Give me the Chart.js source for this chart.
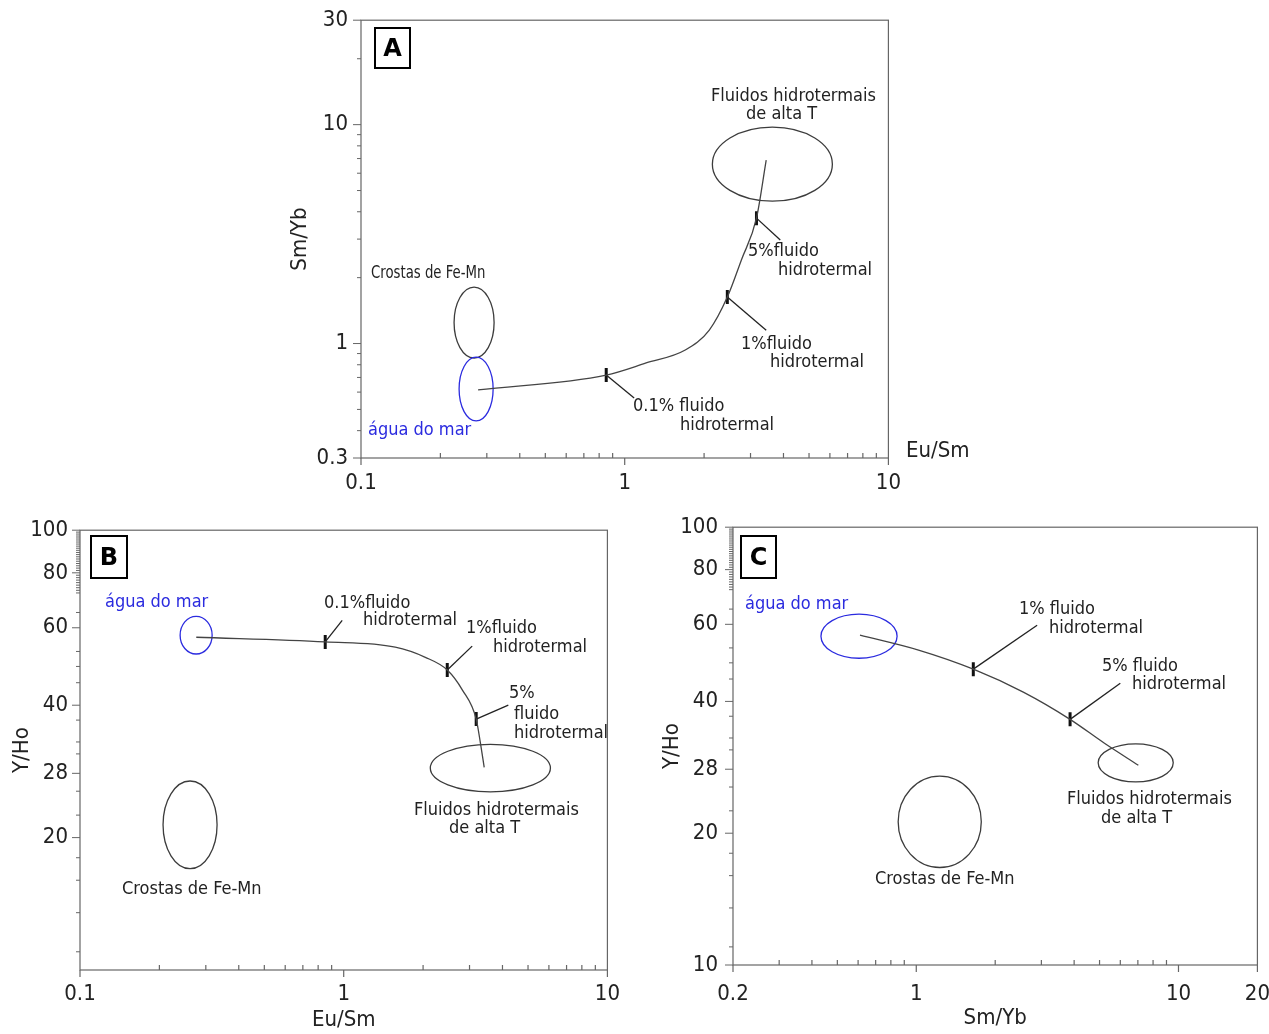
<!DOCTYPE html>
<html>
<head>
<meta charset="utf-8">
<script src="https://cdn.jsdelivr.net/npm/chart.js@4.4.0/dist/chart.umd.min.js"></script>
<style>
body { margin: 0; background: #fff; }
#page { position: relative; width: 1269px; height: 1034px; overflow: hidden;
        font-family: 'DejaVu Sans Condensed', 'DejaVu Sans', sans-serif; color: #222; }
.box { position: absolute; }
.t { position: absolute; white-space: nowrap; line-height: 1; font-size: 18px; }
.blue { color: #2b2bdf; }
.tag { position: absolute; border: 2px solid #000; box-sizing: border-box; font-weight: bold;
       font-size: 24px; text-align: center; font-family: 'DejaVu Sans', sans-serif; color: #000; }
</style>
</head>
<body>
<div id="page">
  <div class="box" style="left:270px;top:-6px"><canvas id="chartA" width="643" height="506"></canvas></div>
  <div class="box" style="left:0px;top:505px"><canvas id="chartB" width="631" height="529"></canvas></div>
  <div class="box" style="left:640px;top:499px"><canvas id="chartC" width="646" height="535"></canvas></div>

  <div class="tag" style="left:374px;top:27px;width:37px;height:42px;line-height:38px">A</div>
  <div class="tag" style="left:90px;top:535px;width:38px;height:44px;line-height:40px">B</div>
  <div class="tag" style="left:740px;top:535px;width:37px;height:44px;line-height:40px">C</div>

  <!-- A -->
  <div class="t" style="left:711px;top:86px">Fluidos hidrotermais</div>
  <div class="t" style="left:746px;top:104px">de alta T</div>
  <div class="t" style="left:748px;top:241px">5%fluido</div>
  <div class="t" style="left:778px;top:260px">hidrotermal</div>
  <div class="t" style="left:741px;top:334px">1%fluido</div>
  <div class="t" style="left:770px;top:352px">hidrotermal</div>
  <div class="t" style="left:633px;top:396px">0.1% fluido</div>
  <div class="t" style="left:680px;top:415px">hidrotermal</div>
  <div class="t" style="left:371px;top:263px;transform:scaleX(0.82);transform-origin:0 0">Crostas de Fe-Mn</div>
  <div class="t blue" style="left:368px;top:420px">água do mar</div>
  <div class="t" style="left:906px;top:439px;font-size:22px">Eu/Sm</div>

  <!-- B -->
  <div class="t blue" style="left:105px;top:592px">água do mar</div>
  <div class="t" style="left:324px;top:593px">0.1%fluido</div>
  <div class="t" style="left:363px;top:610px">hidrotermal</div>
  <div class="t" style="left:466px;top:618px">1%fluido</div>
  <div class="t" style="left:493px;top:637px">hidrotermal</div>
  <div class="t" style="left:509px;top:683px">5%</div>
  <div class="t" style="left:514px;top:704px">fluido</div>
  <div class="t" style="left:514px;top:723px">hidrotermal</div>
  <div class="t" style="left:414px;top:800px">Fluidos hidrotermais</div>
  <div class="t" style="left:449px;top:818px">de alta T</div>
  <div class="t" style="left:122px;top:879px">Crostas de Fe-Mn</div>

  <!-- C -->
  <div class="t blue" style="left:745px;top:594px">água do mar</div>
  <div class="t" style="left:1019px;top:599px">1% fluido</div>
  <div class="t" style="left:1049px;top:618px">hidrotermal</div>
  <div class="t" style="left:1102px;top:656px">5% fluido</div>
  <div class="t" style="left:1132px;top:674px">hidrotermal</div>
  <div class="t" style="left:1067px;top:789px">Fluidos hidrotermais</div>
  <div class="t" style="left:1101px;top:808px">de alta T</div>
  <div class="t" style="left:875px;top:869px">Crostas de Fe-Mn</div>
</div>

<script>
// ---- Panel A : Sm/Yb vs Eu/Sm ----
const aCurveX = [0.278, 0.851, 1.206, 1.697, 2.093, 2.45, 2.77, 3.16, 3.44];
const aCurveY = [0.614, 0.718, 0.815, 0.934, 1.152, 1.63, 2.41, 3.74, 6.89];
const aMarkX = [0.851, 2.45, 3.16];      // 0.1%, 1%, 5% fluido
const aMarkY = [0.718, 1.63, 3.74];
const aLeadX = [1.086, 3.44, 3.89];
const aLeadY = [0.564, 1.15, 2.97];
// ellipses: Fluidos hidrotermais, Crostas de Fe-Mn, agua do mar
const aEllX0 = [2.15, 0.2254, 0.2355];
const aEllX1 = [6.13, 0.3197, 0.317];
const aEllY0 = [4.47, 0.859, 0.443];
const aEllY1 = [9.74, 1.81, 0.867];
const aXTicks = [0.1, 0.2, 0.3, 0.4, 0.5, 0.6, 0.7, 0.8, 0.9, 1, 2, 3, 4, 5, 6, 7, 8, 9, 10];
const aXLabels = [0.1, 1, 10];
const aYTicks = [0.3, 0.4, 0.5, 0.6, 0.7, 0.8, 0.9, 1, 2, 3, 4, 5, 6, 7, 8, 9, 10, 20, 30];
const aYLabels = [0.3, 1, 10, 30];

// ---- Panel B : Y/Ho vs Eu/Sm ----
const bCurveX = [0.276, 0.851, 1.568, 2.04, 2.47, 2.82, 3.18, 3.30, 3.41];
const bCurveY = [57.1, 55.7, 54.2, 51.4, 48.1, 43.3, 37.2, 32.8, 28.9];
const bMarkX = [0.851, 2.47, 3.18];
const bMarkY = [55.7, 48.1, 37.2];
const bLeadX = [0.987, 3.07, 4.21];
const bLeadY = [62.4, 54.5, 40.0];
const bEllX0 = [2.13, 0.2065, 0.2397];
const bEllX1 = [6.08, 0.331, 0.317];
const bEllY0 = [25.4, 17.0, 52.3];
const bEllY1 = [32.6, 26.9, 63.7];
const bXTicks = [0.1, 0.2, 0.3, 0.4, 0.5, 0.6, 0.7, 0.8, 0.9, 1, 2, 3, 4, 5, 6, 7, 8, 9, 10];
const bXLabels = [0.1, 1, 10];
const bYTicks = [11, 13.5, 16, 18, 20, 22.5, 25.5, 28, 31, 33, 37, 40, 45, 49, 53, 60, 65,
  72, 73, 74, 75, 76, 77, 78, 79, 80, 81, 82, 83, 84, 85, 86, 87, 88, 89, 90,
  91, 92, 93, 94, 95, 96, 97, 98, 99, 100];
const bYLabels = [20, 28, 40, 60, 80, 100];

// ---- Panel C : Y/Ho vs Sm/Yb ----
const cCurveX = [0.61, 1.02, 1.65, 2.56, 3.86, 5.22, 7.03];
const cCurveY = [56.7, 52.4, 47.4, 42.0, 36.4, 32.1, 28.6];
const cMarkX = [1.65, 3.86];             // 1%, 5% fluido
const cMarkY = [47.4, 36.4];
const cLeadX = [2.89, 6.0];
const cLeadY = [59.7, 44.0];
const cEllX0 = [4.94, 0.853, 0.433];
const cEllX1 = [9.55, 1.77, 0.845];
const cEllY0 = [26.2, 16.7, 50.2];
const cEllY1 = [32.0, 27.0, 63.3];
const cXTicks = [0.2, 0.3, 0.4, 0.5, 0.6, 0.7, 0.8, 0.9, 1, 2, 3, 4, 5, 6, 7, 8, 9, 10, 20];
const cXLabels = [0.2, 1, 10, 20];
const cYTicks = [10, 11, 13.5, 16, 18, 20, 22.5, 25.5, 28, 31, 33, 37, 40, 45, 49, 53, 60, 65,
  72, 73, 74, 75, 76, 77, 78, 79, 80, 81, 82, 83, 84, 85, 86, 87, 88, 89, 90,
  91, 92, 93, 94, 95, 96, 97, 98, 99, 100];
const cYLabels = [10, 20, 28, 40, 60, 80, 100];

const ellColors = ['#3c3c3c', '#3c3c3c', '#2b2bdf'];
const FONT = "'DejaVu Sans Condensed', 'DejaVu Sans', sans-serif";
Chart.defaults.font.family = FONT;
Chart.defaults.color = '#222';

// frame, tick marks and the field ellipses
function framePlugin(ell) {
    return {
        id: 'frame',
        beforeDatasetsDraw(chart) {
            const ctx = chart.ctx;
            const a = chart.chartArea;
            const x = chart.scales.x, y = chart.scales.y;
            ctx.save();
            ell.x0.forEach(function (v, i) {
                const x1 = x.getPixelForValue(v), x2 = x.getPixelForValue(ell.x1[i]);
                const y1 = y.getPixelForValue(ell.y0[i]), y2 = y.getPixelForValue(ell.y1[i]);
                ctx.beginPath();
                ctx.ellipse((x1 + x2) / 2, (y1 + y2) / 2, Math.abs(x2 - x1) / 2, Math.abs(y2 - y1) / 2, 0, 0, Math.PI * 2);
                ctx.strokeStyle = ellColors[i];
                ctx.lineWidth = 1.3;
                ctx.stroke();
            });
            ctx.strokeStyle = '#666';
            ctx.lineWidth = 1.2;
            ctx.strokeRect(a.left, a.top, a.right - a.left, a.bottom - a.top);
            x.ticks.forEach(function (t) {
                const px = x.getPixelForValue(t.value);
                const major = t.label !== '';
                ctx.beginPath();
                ctx.moveTo(px, a.bottom);
                ctx.lineTo(px, major ? a.bottom + 7 : a.bottom - 5);
                ctx.stroke();
            });
            ctx.lineWidth = 1;
            y.ticks.forEach(function (t) {
                const py = y.getPixelForValue(t.value);
                const major = t.label !== '';
                ctx.beginPath();
                ctx.moveTo(a.left, py);
                ctx.lineTo(a.left - (major ? 8 : 4), py);
                ctx.stroke();
            });
            ctx.restore();
        }
    };
}

function drawPanel(id, o) {
    const datasets = [{
        type: 'line',
        data: o.curveX.map(function (v, i) { return { x: v, y: o.curveY[i] }; }),
        borderColor: '#444',
        borderWidth: 1.3,
        pointRadius: 0,
        cubicInterpolationMode: 'monotone',
        fill: false
    }];
    o.markX.forEach(function (v, i) {
        datasets.push({
            type: 'line',
            data: [{ x: v, y: o.markY[i] }, { x: o.leadX[i], y: o.leadY[i] }],
            borderColor: '#222',
            borderWidth: 1.3,
            pointRadius: 0
        });
    });
    datasets.push({
        type: 'scatter',
        data: o.markX.map(function (v, i) { return { x: v, y: o.markY[i] }; }),
        pointStyle: 'line',
        rotation: 90,
        pointRadius: 7,
        borderWidth: 3,
        borderColor: '#111'
    });

    const axisTitle = function (text, pad) {
        return text ? { display: true, text: text, font: { size: 22 }, color: '#222', padding: pad } : { display: false };
    };

    new Chart(document.getElementById(id), {
        type: 'scatter',
        data: { datasets: datasets },
        options: {
            responsive: false,
            animation: false,
            layout: { padding: { top: o.padTop, right: o.padRight, left: 0, bottom: 0 } },
            plugins: { legend: { display: false }, tooltip: { enabled: false } },
            scales: {
                x: {
                    type: 'logarithmic', min: o.xMin, max: o.xMax,
                    afterFit: function (s) { s.height = o.xAxisH; },
                    afterBuildTicks: function (s) { s.ticks = o.xTicks.map(function (v) { return { value: v }; }); },
                    ticks: {
                        autoSkip: false, maxRotation: 0, minRotation: 0, padding: o.xPad,
                        font: { size: 22 }, color: '#222',
                        callback: function (v) { return o.xLabels.includes(v) ? String(v) : ''; }
                    },
                    grid: { display: false, drawTicks: false },
                    border: { display: false },
                    title: axisTitle(o.xTitle, { top: 0, bottom: o.xTitlePad })
                },
                y: {
                    type: 'logarithmic', min: o.yMin, max: o.yMax,
                    afterFit: function (s) { s.width = o.yAxisW; },
                    afterBuildTicks: function (s) { s.ticks = o.yTicks.map(function (v) { return { value: v }; }); },
                    ticks: {
                        autoSkip: false, padding: o.yPad,
                        font: { size: 22 }, color: '#222',
                        callback: function (v) { return o.yLabels.includes(v) ? String(v) : ''; }
                    },
                    grid: { display: false, drawTicks: false },
                    border: { display: false },
                    title: axisTitle(o.yTitle, { top: o.yTitlePad, bottom: 0 })
                }
            }
        },
        plugins: [framePlugin(o.ell)]
    });
}

drawPanel('chartA', {
    curveX: aCurveX, curveY: aCurveY, markX: aMarkX, markY: aMarkY, leadX: aLeadX, leadY: aLeadY,
    ell: { x0: aEllX0, x1: aEllX1, y0: aEllY0, y1: aEllY1 },
    xMin: 0.1, xMax: 10, yMin: 0.3, yMax: 30,
    xTicks: aXTicks, xLabels: aXLabels, yTicks: aYTicks, yLabels: aYLabels,
    padTop: 20, padRight: 22, xAxisH: 42, yAxisW: 91, xPad: 12, yPad: 13,
    xTitle: null, yTitle: 'Sm/Yb', yTitlePad: 17
});

drawPanel('chartB', {
    curveX: bCurveX, curveY: bCurveY, markX: bMarkX, markY: bMarkY, leadX: bLeadX, leadY: bLeadY,
    ell: { x0: bEllX0, x1: bEllX1, y0: bEllY0, y1: bEllY1 },
    xMin: 0.1, xMax: 10, yMin: 10, yMax: 100,
    xTicks: bXTicks, xLabels: bXLabels, yTicks: bYTicks, yLabels: bYLabels,
    padTop: 20, padRight: 23, xAxisH: 64, yAxisW: 80, xPad: 11, yPad: 12,
    xTitle: 'Eu/Sm', xTitlePad: 1, yTitle: 'Y/Ho', yTitlePad: 9
});

drawPanel('chartC', {
    curveX: cCurveX, curveY: cCurveY, markX: cMarkX, markY: cMarkY, leadX: cLeadX, leadY: cLeadY,
    ell: { x0: cEllX0, x1: cEllX1, y0: cEllY0, y1: cEllY1 },
    xMin: 0.2, xMax: 20, yMin: 10, yMax: 100,
    xTicks: cXTicks, xLabels: cXLabels, yTicks: cYTicks, yLabels: cYLabels,
    padTop: 17, padRight: 23, xAxisH: 69, yAxisW: 93, xPad: 16, yPad: 15,
    xTitle: 'Sm/Yb', xTitlePad: 3, yTitle: 'Y/Ho', yTitlePad: 19
});
</script>
</body>
</html>
